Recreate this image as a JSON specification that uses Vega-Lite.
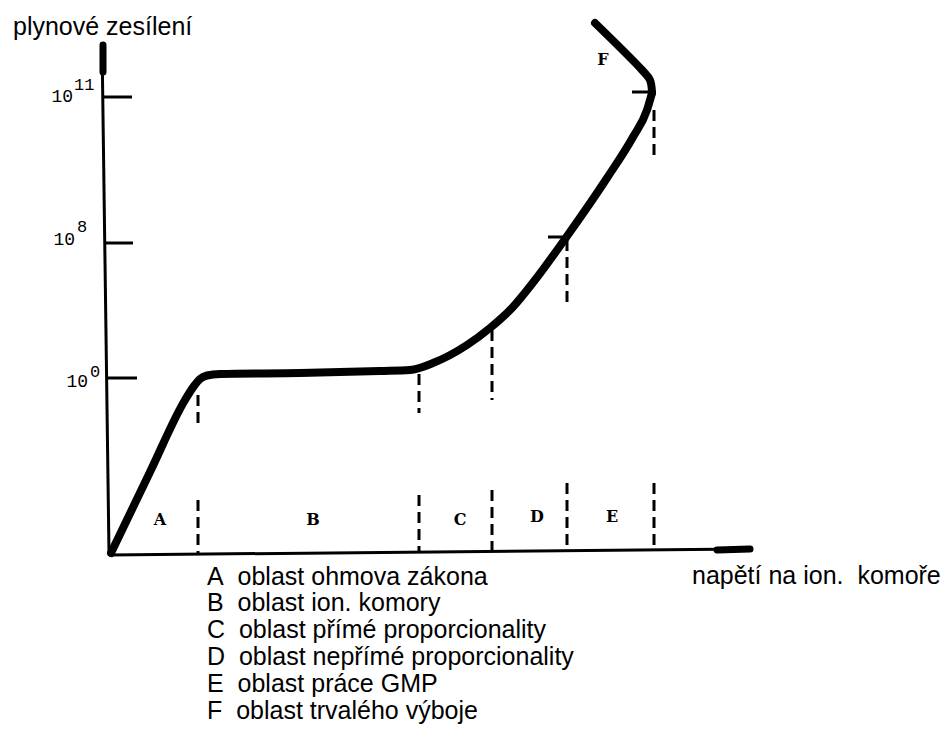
{
  "$schema": "https://vega.github.io/schema/vega-lite/v6.json",
  "width": 949,
  "height": 729,
  "padding": 0,
  "autosize": {"type": "fit", "contains": "padding"},
  "background": "white",
  "config": {"view": {"stroke": null}},
  "datasets": {
    "curve": [
      {"i": 0, "x": 0.1, "y": -0.1},
      {"i": 1, "x": 4.0, "y": 8.0},
      {"i": 2, "x": 7.5, "y": 15.2},
      {"i": 3, "x": 8.4, "y": 16.6},
      {"i": 4, "x": 9.0, "y": 17.3},
      {"i": 5, "x": 9.7, "y": 17.65},
      {"i": 6, "x": 11.0, "y": 17.8},
      {"i": 7, "x": 19.0, "y": 17.9},
      {"i": 8, "x": 27.0, "y": 18.1},
      {"i": 9, "x": 30.0, "y": 18.2},
      {"i": 10, "x": 32.3, "y": 18.9},
      {"i": 11, "x": 35.7, "y": 20.7},
      {"i": 12, "x": 38.0, "y": 22.4},
      {"i": 13, "x": 40.2, "y": 24.4},
      {"i": 14, "x": 42.5, "y": 27.2},
      {"i": 15, "x": 45.5, "y": 31.3},
      {"i": 16, "x": 49.7, "y": 37.4},
      {"i": 17, "x": 52.3, "y": 41.5},
      {"i": 18, "x": 53.7, "y": 44.2},
      {"i": 19, "x": 54.2, "y": 45.9}
    ],
    "curveF": [
      {"i": 0, "x": 54.2, "y": 45.9},
      {"i": 1, "x": 54.0, "y": 47.2},
      {"i": 2, "x": 53.2, "y": 48.2},
      {"i": 3, "x": 48.5, "y": 52.9}
    ],
    "axes": [
      {"x": -0.1, "y": -0.1, "x2": -0.8, "y2": 51.0},
      {"x": -0.1, "y": -0.3, "x2": 63.5, "y2": 0.3},
      {"x": -0.3, "y": 17.4, "x2": 2.7, "y2": 17.4},
      {"x": -0.5, "y": 30.9, "x2": 2.3, "y2": 30.9},
      {"x": -0.7, "y": 45.5, "x2": 2.2, "y2": 45.5},
      {"x": 43.8, "y": 31.5, "x2": 45.6, "y2": 31.5},
      {"x": 52.2, "y": 46.0, "x2": 54.0, "y2": 46.0}
    ],
    "arrows": [
      {"x": -0.7, "y": 50.7, "x2": -0.7, "y2": 48.0},
      {"x": 60.7, "y": 0.2, "x2": 64.0, "y2": 0.3}
    ],
    "dashes": [
      {"x": 8.8, "y": 15.7, "y2": 12.7},
      {"x": 8.8, "y": 5.2, "y2": -0.1},
      {"x": 30.9, "y": 17.8, "y2": 13.9},
      {"x": 30.9, "y": 5.7, "y2": 0.0},
      {"x": 38.2, "y": 22.2, "y2": 15.2},
      {"x": 38.2, "y": 6.2, "y2": 0.1},
      {"x": 45.7, "y": 31.2, "y2": 24.9},
      {"x": 45.7, "y": 6.9, "y2": 0.2},
      {"x": 54.4, "y": 44.2, "y2": 39.5},
      {"x": 54.4, "y": 6.9, "y2": 0.3}
    ],
    "tickbase": [
      {"x": -2.2, "y": 16.5, "t": "10"},
      {"x": -3.5, "y": 30.7, "t": "10"},
      {"x": -3.7, "y": 45.0, "t": "10"}
    ],
    "tickexp": [
      {"x": -2.0, "y": 17.5, "t": "0"},
      {"x": -3.3, "y": 32.0, "t": "8"},
      {"x": -3.6, "y": 46.2, "t": "11"}
    ],
    "regions": [
      {"x": 5.0, "y": 3.2, "t": "A"},
      {"x": 20.3, "y": 3.2, "t": "B"},
      {"x": 35.0, "y": 3.2, "t": "C"},
      {"x": 42.7, "y": 3.5, "t": "D"},
      {"x": 50.2, "y": 3.5, "t": "E"},
      {"x": 49.3, "y": 49.2, "t": "F"}
    ],
    "labels": [
      {"x": -9.7, "y": 52.5, "t": "plynové zesílení"},
      {"x": 58.2, "y": -2.4, "t": "napětí na ion.\u00a0 komoře"},
      {"x": 9.7, "y": -2.5, "t": "A\u00a0 oblast ohmova zákona"},
      {"x": 9.7, "y": -5.1, "t": "B\u00a0 oblast ion. komory"},
      {"x": 9.7, "y": -7.8, "t": "C\u00a0 oblast přímé proporcionality"},
      {"x": 9.7, "y": -10.5, "t": "D\u00a0 oblast nepřímé proporcionality"},
      {"x": 9.7, "y": -13.2, "t": "E\u00a0 oblast práce GMP"},
      {"x": 9.7, "y": -15.9, "t": "F\u00a0 oblast trvalého výboje"}
    ]
  },
  "layer": [
    {
      "data": {"name": "axes"},
      "mark": {"type": "rule", "color": "black", "strokeWidth": 3, "strokeCap": "butt"},
      "encoding": {
        "x": {"field": "x", "type": "quantitative", "scale": {"domain": [-11, 83.9], "nice": false, "zero": false}, "axis": null},
        "y": {"field": "y", "type": "quantitative", "scale": {"domain": [-17.7, 55.2], "nice": false, "zero": false}, "axis": null},
        "x2": {"field": "x2"},
        "y2": {"field": "y2"}
      }
    },
    {
      "data": {"name": "arrows"},
      "mark": {"type": "rule", "color": "black", "strokeWidth": 7, "strokeCap": "round"},
      "encoding": {
        "x": {"field": "x", "type": "quantitative"},
        "y": {"field": "y", "type": "quantitative"},
        "x2": {"field": "x2"},
        "y2": {"field": "y2"}
      }
    },
    {
      "data": {"name": "dashes"},
      "mark": {"type": "rule", "color": "black", "strokeWidth": 3, "strokeDash": [11, 6]},
      "encoding": {
        "x": {"field": "x", "type": "quantitative"},
        "y": {"field": "y", "type": "quantitative"},
        "y2": {"field": "y2"}
      }
    },
    {
      "data": {"name": "curve"},
      "mark": {"type": "line", "color": "black", "strokeWidth": 8, "strokeCap": "round", "strokeJoin": "round", "interpolate": "monotone"},
      "encoding": {
        "x": {"field": "x", "type": "quantitative"},
        "y": {"field": "y", "type": "quantitative"},
        "order": {"field": "i", "type": "quantitative"}
      }
    },
    {
      "data": {"name": "curveF"},
      "mark": {"type": "line", "color": "black", "strokeWidth": 8, "strokeCap": "round", "strokeJoin": "round", "interpolate": "catmull-rom"},
      "encoding": {
        "x": {"field": "x", "type": "quantitative"},
        "y": {"field": "y", "type": "quantitative"},
        "order": {"field": "i", "type": "quantitative"}
      }
    },
    {
      "data": {"name": "tickbase"},
      "mark": {"type": "text", "font": "Liberation Mono", "fontSize": 18, "align": "right", "baseline": "alphabetic", "color": "black"},
      "encoding": {
        "x": {"field": "x", "type": "quantitative"},
        "y": {"field": "y", "type": "quantitative"},
        "text": {"field": "t"}
      }
    },
    {
      "data": {"name": "tickexp"},
      "mark": {"type": "text", "font": "Liberation Mono", "fontSize": 17, "align": "left", "baseline": "alphabetic", "color": "black"},
      "encoding": {
        "x": {"field": "x", "type": "quantitative"},
        "y": {"field": "y", "type": "quantitative"},
        "text": {"field": "t"}
      }
    },
    {
      "data": {"name": "regions"},
      "mark": {"type": "text", "font": "DejaVu Serif", "fontWeight": "bold", "fontSize": 16, "align": "center", "baseline": "middle", "color": "black"},
      "encoding": {
        "x": {"field": "x", "type": "quantitative"},
        "y": {"field": "y", "type": "quantitative"},
        "text": {"field": "t"}
      }
    },
    {
      "data": {"name": "labels"},
      "mark": {"type": "text", "font": "Liberation Sans", "fontSize": 25, "align": "left", "baseline": "middle", "color": "black"},
      "encoding": {
        "x": {"field": "x", "type": "quantitative"},
        "y": {"field": "y", "type": "quantitative"},
        "text": {"field": "t"}
      }
    }
  ]
}
